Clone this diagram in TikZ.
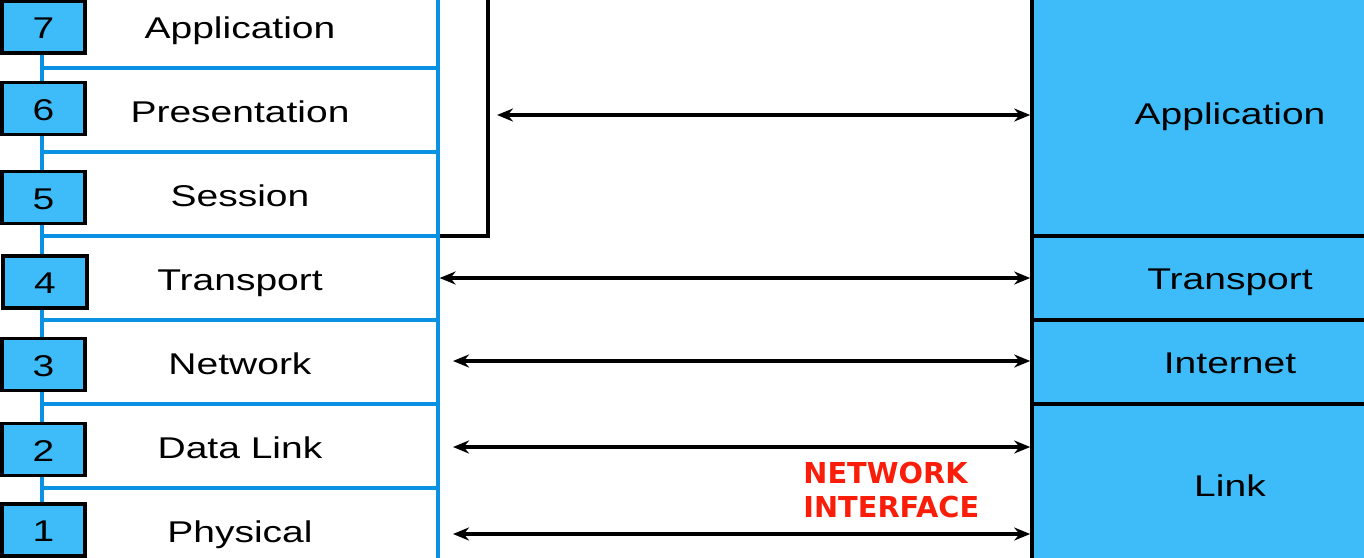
\documentclass[tikz,border=0pt]{standalone}
\usepackage{fontspec}
\setmainfont{Liberation Sans}[FakeStretch=1.3]
\newfontfamily\nifont{DejaVu Sans}
\usetikzlibrary{arrows.meta}
\definecolor{layerblue}{RGB}{62,188,250}
\definecolor{lineblue}{RGB}{10,145,228}
\definecolor{nired}{RGB}{250,30,10}
\tikzset{
  osi/.style={draw=lineblue,line width=1.6pt,minimum width=198pt,minimum height=42pt,inner sep=0,text height=12.5pt,text depth=0pt,font=\fontsize{15}{16}\selectfont},
  num/.style={draw=black,fill=layerblue,line width=1.9pt,minimum width=41.75pt,minimum height=26pt,inner sep=0,text height=11.5pt,text depth=0pt,font=\fontsize{15}{16}\selectfont},
  tcpip/.style={draw=black,fill=layerblue,line width=1.8pt,minimum width=198pt,inner sep=0,text height=11.5pt,text depth=0pt,font=\fontsize{15}{16}\selectfont},
  peer/.style={line width=1.6pt,{Stealth[length=8pt,width=6.5pt]}-{Stealth[length=8pt,width=6.5pt]}}
}
\begin{document}
\begin{tikzpicture}[x=0.5pt,y=-0.5pt]
  \clip (0,0) rectangle (1364,557);

  \node[osi] (l7) at (240,26) {Application};
  \node[osi] (l6) at (240,110) {Presentation};
  \node[osi] (l5) at (240,194) {Session};
  \node[osi] (l4) at (240,278) {Transport};
  \node[osi] (l3) at (240,362) {Network};
  \node[osi] (l2) at (240,446) {Data Link};
  \node[osi] (l1) at (240,530) {Physical};

  \node[num] (n7) at (43.5,27) {7};
  \node[num] (n6) at (43.5,108.5) {6};
  \node[num] (n5) at (43.5,197.5) {5};
  \node[num] (n4) at (45,282) {4};
  \node[num] (n3) at (43.5,364.5) {3};
  \node[num] (n2) at (43.5,449.5) {2};
  \node[num] (n1) at (43.5,530) {1};

  \node[tcpip,minimum height=123pt] (app) at (1230,113) {Application};
  \node[tcpip,minimum height=42pt] (trn) at (1230,278) {Transport};
  \node[tcpip,minimum height=42pt] (inet) at (1230,362) {Internet};
  \node[tcpip,minimum height=81pt] (lnk) at (1230,485) {Link};

  \coordinate (brktop) at (488,-10);
  \coordinate (brk) at (488,236);
  \draw[line width=1.6pt] (brktop) -- (brk) -- (brk -| l5.east);

  \coordinate (p7) at (497,115);
  \coordinate (p3) at (453,361);
  \coordinate (p2) at (453,447);
  \coordinate (p1) at (453,534);
  \draw[peer] (p7) -- (p7 -| app.west);
  \draw[peer] (l4.east) -- (trn.west);
  \draw[peer] (p3) -- (p3 -| inet.west);
  \draw[peer] (p2) -- (p2 -| lnk.west);
  \draw[peer] (p1) -- (p1 -| lnk.west);

  \node[font=\nifont\bfseries\fontsize{14.4}{17}\selectfont,text=nired,align=left,anchor=west,inner sep=0] (ni) at (803,490.5) {NETWORK\\INTERFACE};
\end{tikzpicture}
\end{document}
